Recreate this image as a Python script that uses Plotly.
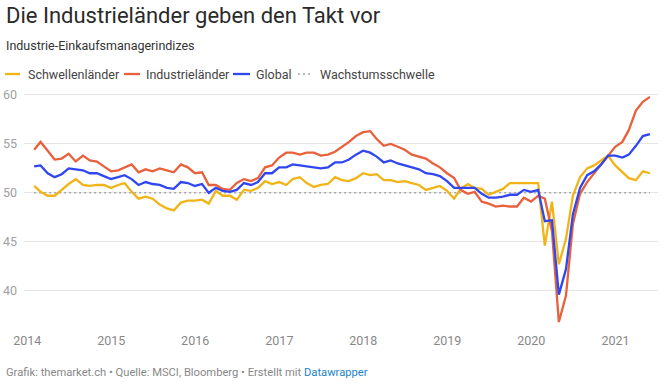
import pandas as pd
import plotly.graph_objects as go

# Monthly data, Jan 2014 - May 2021 (month-end)
dates = pd.date_range("2014-01-31", "2021-05-31", freq="ME")

industrielaender = [
    54.4, 55.2, 54.3, 53.4, 53.5, 54.0, 53.2, 53.8, 53.3, 53.2, 52.7, 52.2,
    52.3, 52.6, 52.9, 52.1, 52.4, 52.2, 52.5, 52.3, 52.1, 52.9, 52.6, 52.0,
    52.1, 50.8, 50.8, 50.4, 50.3, 51.0, 51.4, 51.2, 51.5, 52.6, 52.8, 53.6,
    54.1, 54.1, 53.9, 54.1, 54.1, 53.8, 53.9, 54.2, 54.7, 55.2, 55.8, 56.2,
    56.3, 55.5, 54.8, 55.0, 54.7, 54.4, 53.9, 53.7, 53.5, 53.0, 52.6, 52.0,
    51.5, 50.3, 49.9, 50.1, 49.1, 48.9, 48.6, 48.7, 48.6, 48.6, 49.5, 49.1,
    49.7, 49.4, 46.1, 36.8, 39.5, 46.8, 49.9, 51.1, 52.0, 52.9, 53.8, 54.7,
    55.2, 56.4, 58.4, 59.3, 59.8,
]
global_pmi = [
    52.7, 52.8, 52.0, 51.6, 51.9, 52.5, 52.4, 52.3, 52.0, 52.0, 51.7, 51.4,
    51.6, 51.8, 51.4, 50.8, 51.1, 50.9, 50.8, 50.5, 50.4, 51.1, 51.0, 50.7,
    50.9, 50.0, 50.5, 50.2, 50.1, 50.3, 51.0, 50.8, 51.1, 52.0, 52.0, 52.6,
    52.6, 52.9, 52.8, 52.7, 52.6, 52.5, 52.6, 53.1, 53.1, 53.4, 53.9, 54.3,
    54.1, 53.7, 53.1, 53.3, 53.0, 52.8, 52.6, 52.4, 52.0, 51.9, 51.7, 51.2,
    50.5, 50.5, 50.5, 50.5, 49.9, 49.5, 49.5, 49.6, 49.8, 49.8, 50.3, 50.1,
    50.3, 47.1, 47.2, 39.6, 42.2, 47.8, 50.5, 51.8, 52.2, 52.9, 53.8, 53.8,
    53.6, 53.9, 54.8, 55.8, 56.0,
]
schwellenlaender = [
    50.7, 50.1, 49.7, 49.7, 50.3, 50.9, 51.4, 50.8, 50.7, 50.8, 50.8, 50.5,
    50.8, 51.0, 50.1, 49.4, 49.6, 49.4, 48.8, 48.4, 48.2, 49.0, 49.2, 49.2,
    49.3, 48.9, 50.2, 49.7, 49.7, 49.3, 50.3, 50.2, 50.5, 51.2, 50.9, 51.1,
    50.8, 51.4, 51.6, 51.0, 50.6, 50.8, 50.9, 51.6, 51.3, 51.2, 51.5, 52.0,
    51.8, 51.9, 51.3, 51.3, 51.1, 51.2, 51.0, 50.8, 50.3, 50.5, 50.7, 50.2,
    49.4, 50.4, 50.9, 50.5, 50.4, 49.8, 50.1, 50.4, 51.0, 51.0, 51.0, 51.0,
    51.0, 44.6, 49.1, 42.7, 45.3, 49.7, 51.6, 52.5, 52.8, 53.3, 53.8, 52.8,
    52.1, 51.5, 51.3, 52.2, 52.0,
]
wachstumsschwelle = [50] * len(dates)

tick_years = ["2014", "2015", "2016", "2017", "2018", "2019", "2020", "2021"]
y_ticks = [40, 45, 50, 55, 60]

C_YELLOW = "#f0b416"
C_RED = "#e8613c"
C_BLUE = "#3047f0"
C_DOT = "#a8a8a8"
FONT = "Roboto"
DOT_DASH = "2px,3px"

fig = go.Figure()
fig.add_trace(go.Scatter(x=dates, y=wachstumsschwelle, mode="lines", name="Wachstumsschwelle",
                         line=dict(color=C_DOT, width=1.6, dash=DOT_DASH)))
fig.add_trace(go.Scatter(x=dates, y=schwellenlaender, mode="lines", name="Schwellenländer",
                         line=dict(color=C_YELLOW, width=2.3)))
fig.add_trace(go.Scatter(x=dates, y=industrielaender, mode="lines", name="Industrieländer",
                         line=dict(color=C_RED, width=2.3)))
fig.add_trace(go.Scatter(x=dates, y=global_pmi, mode="lines", name="Global",
                         line=dict(color=C_BLUE, width=2.3)))

W, H = 670, 385
ML, MR, MT, MB = 24, 12, 91, 61
PW, PH = W - ML - MR, H - MT - MB


def px(x):
    return (x - ML) / PW


def py(y):
    return (H - MB - y) / PH


ann = [
    dict(text="Die Industrieländer geben den Takt vor", x=px(4), y=py(16),
         font=dict(size=22, color="#2a2a2a", family=FONT)),
    dict(text="Industrie-Einkaufsmanagerindizes", x=px(4), y=py(45),
         font=dict(size=12.5, color="#333333", family=FONT)),
    dict(text="Grafik: themarket.ch • Quelle: MSCI, Bloomberg • Erstellt mit "
              "<span style='color:#1d84c6'>Datawrapper</span>", x=px(4), y=py(372),
         font=dict(size=11.2, color="#888888", family=FONT)),
]
shapes = []
legend_items = [
    ("Schwellenländer", C_YELLOW, 5, 20, 26, "solid"),
    ("Industrieländer", C_RED, 124, 140, 144, "solid"),
    ("Global", C_BLUE, 233, 250, 254, "solid"),
    ("Wachstumsschwelle", C_DOT, 298, 313, 318, DOT_DASH),
]
for name, col, x0, x1, tx, dash in legend_items:
    shapes.append(dict(type="line", xref="paper", yref="paper", x0=px(x0), x1=px(x1),
                       y0=py(74), y1=py(74),
                       line=dict(color=col, width=2.3 if dash == "solid" else 1.6, dash=dash)))
    ann.append(dict(text=name, x=px(tx), y=py(74),
                    font=dict(size=12.5, color="#444444", family=FONT)))

for a in ann:
    a.update(xref="paper", yref="paper", xanchor="left", yanchor="middle", showarrow=False)

fig.update_layout(
    width=W, height=H,
    margin=dict(l=ML, r=MR, t=MT, b=MB, autoexpand=False),
    paper_bgcolor="white", plot_bgcolor="white",
    showlegend=False,
    annotations=ann, shapes=shapes,
    font=dict(family=FONT),
    xaxis=dict(
        range=["2013-12-18", "2021-07-05"],
        tickvals=[f"{y}-01-01" for y in tick_years], ticktext=tick_years,
        showgrid=False, zeroline=False, showline=False,
        ticks="outside", ticklen=5, tickcolor="rgba(0,0,0,0)",
        tickfont=dict(size=12.5, color="#888888", family=FONT),
    ),
    yaxis=dict(
        range=[36.6, 60.4], tickvals=y_ticks, ticktext=[str(v) for v in y_ticks],
        showgrid=True, gridcolor="#e6e6e6", gridwidth=1, zeroline=False, showline=False,
        ticks="", ticklabelstandoff=6,
        tickfont=dict(size=12.5, color="#a0a0a0", family=FONT),
    ),
)

fig.write_html("out.html", config={"displayModeBar": False},
               post_script="document.body.style.margin='0px';document.body.style.overflow='hidden';")
